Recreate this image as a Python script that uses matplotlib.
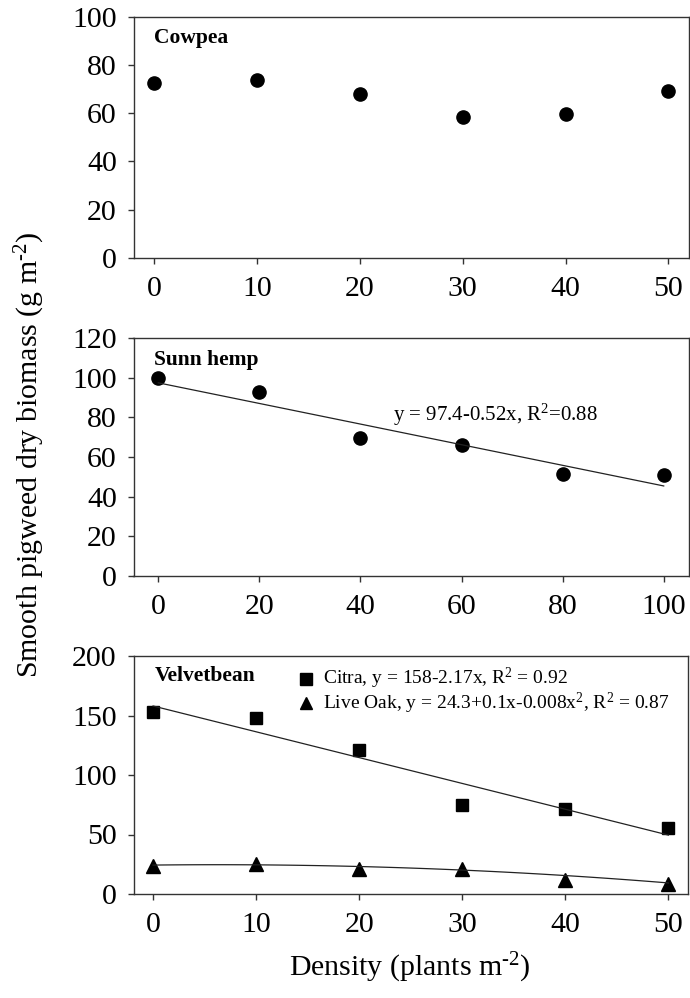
import matplotlib
matplotlib.use("Agg")
import matplotlib.pyplot as plt
import numpy as np

plt.rcParams['font.family'] = ['Liberation Serif', 'DejaVu Serif']
plt.rcParams['mathtext.fontset'] = 'custom'
plt.rcParams['mathtext.rm'] = 'Liberation Serif'
plt.rcParams['mathtext.it'] = 'Liberation Serif:italic'
plt.rcParams['mathtext.bf'] = 'Liberation Serif:bold'

# ---- data ----
cowpea_x = [0, 10, 20, 30, 40, 50]
cowpea_y = [72.5, 73.8, 68.2, 58.6, 59.9, 69.2]

sunn_x = [0, 20, 40, 60, 80, 100]
sunn_y = [99.6, 92.7, 69.7, 65.8, 51.4, 50.9]
sunn_fit = [97.4, -0.52]          # intercept, slope

velvet_x = [0, 10, 20, 30, 40, 50]
citra_y = [152.6, 147.5, 120.7, 75.2, 71.8, 55.1]
liveoak_y = [23.7, 25.1, 20.7, 21.0, 11.7, 8.4]
citra_fit = [158, -2.17]
liveoak_fit = [24.3, 0.1, -0.008]

x_ticks_50 = [0, 10, 20, 30, 40, 50]
x_ticks_100 = [0, 20, 40, 60, 80, 100]
y_ticks_1 = [0, 20, 40, 60, 80, 100]
y_ticks_2 = [0, 20, 40, 60, 80, 100, 120]
y_ticks_3 = [0, 50, 100, 150, 200]

W, H = 690, 998
fig = plt.figure(figsize=(W / 100, H / 100), dpi=100)

def px_axes(left, top, right, bottom):
    return fig.add_axes([left / W, 1 - bottom / H, (right - left) / W, (bottom - top) / H])

ax1 = px_axes(133.5, 17.3, 689, 257.6)
ax2 = px_axes(133.5, 338, 689, 576)
ax3 = px_axes(133.5, 656, 688, 894)

tick_fs = 21.5
for ax in (ax1, ax2, ax3):
    for s in ax.spines.values():
        s.set_linewidth(1.0)
        s.set_color('#333333')
    ax.tick_params(direction='out', length=4, width=1.0, labelsize=tick_fs, color='#333333')
    ax.tick_params(axis='x', pad=9)
    ax.tick_params(axis='y', pad=8)

# Panel 1
ax1.plot(cowpea_x, cowpea_y, 'o', color='black', markersize=9.5)
ax1.set_xlim(-2.0, 52.0)
ax1.set_ylim(0, 100)
ax1.set_xticks(x_ticks_50)
ax1.set_yticks(y_ticks_1)
ax1.text(0.0, 91.4, 'Cowpea', fontsize=15.5, fontweight='bold', va='center', ha='left')

# Panel 2
ax2.plot(sunn_x, sunn_y, 'o', color='black', markersize=9.5)
fx2 = np.array([sunn_x[0], sunn_x[-1]])
ax2.plot(fx2, sunn_fit[0] + sunn_fit[1] * fx2, '-', color='#222222', linewidth=0.9)
ax2.set_xlim(-4.9, 105)
ax2.set_ylim(0, 120)
ax2.set_xticks(x_ticks_100)
ax2.set_yticks(y_ticks_2)
ax2.text(-0.8, 108.8, 'Sunn hemp', fontsize=15.5, fontweight='bold', va='center', ha='left')
ax2.text(46.5, 81, r'y = 97.4-0.52x, R$^{\text{2}}$=0.88', fontsize=15, va='center', ha='left')

# Panel 3
ax3.plot(velvet_x, citra_y, 's', color='black', markersize=9)
ax3.plot(velvet_x, liveoak_y, '^', color='black', markersize=9.5)
fx3 = np.linspace(velvet_x[0], velvet_x[-1], 51)
ax3.plot(fx3, citra_fit[0] + citra_fit[1] * fx3, '-', color='#222222', linewidth=0.9)
ax3.plot(fx3, liveoak_fit[0] + liveoak_fit[1] * fx3 + liveoak_fit[2] * fx3 ** 2, '-', color='#222222', linewidth=0.9)
ax3.set_xlim(-1.9, 51.9)
ax3.set_ylim(0, 200)
ax3.set_xticks(x_ticks_50)
ax3.set_yticks(y_ticks_3)
ax3.text(0.2, 183.6, 'Velvetbean', fontsize=15.5, fontweight='bold', va='center', ha='left')
ax3.plot([14.8], [181], 's', color='black', markersize=8)
ax3.text(16.5, 181, r'Citra, y = 158-2.17x, R$^{\text{2}}$ = 0.92', fontsize=14, va='center', ha='left')
ax3.plot([14.8], [160.5], '^', color='black', markersize=9)
ax3.text(16.5, 160.5, r'Live Oak, y = 24.3+0.1x-0.008x$^{\text{2}}$, R$^{\text{2}}$ = 0.87',
         fontsize=14, va='center', ha='left')

fig.text(30 / W, 1 - 455 / H, r'Smooth pigweed dry biomass (g m$^{\text{-2}}$)', rotation=90,
         fontsize=21.5, va='center', ha='center')
fig.text(410 / W, 1 - 968 / H, r'Density (plants m$^{\text{-2}}$)', fontsize=21.5, va='center', ha='center')

fig.savefig('out.png', dpi=100)
